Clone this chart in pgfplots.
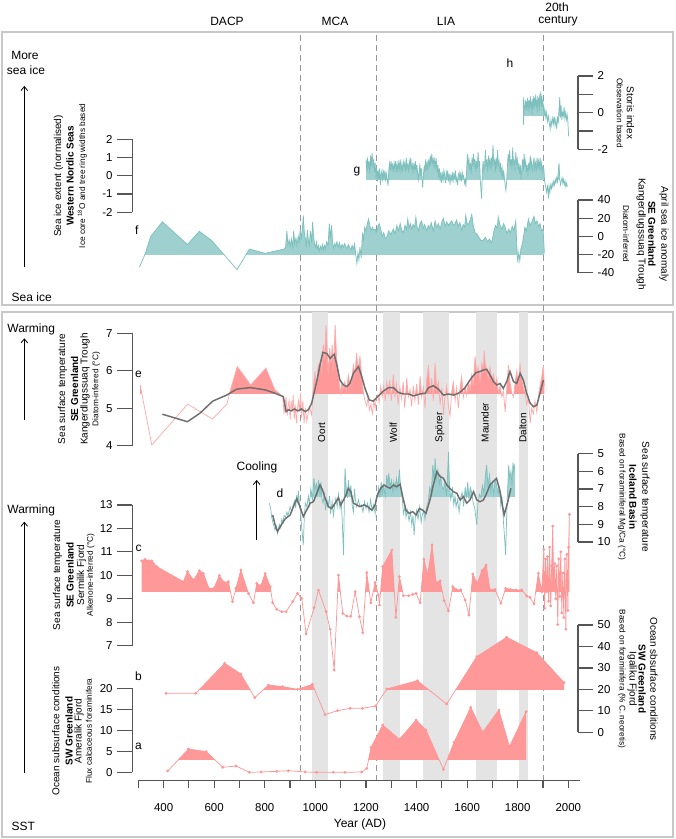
\documentclass[border=0pt]{standalone}
\usepackage{fontspec}
\setmainfont{Liberation Sans}
\usepackage{pgfplots}
\usepackage{pgfplotstable}
\pgfplotsset{compat=1.18}
\usetikzlibrary{arrows.meta}

\definecolor{tealfill}{RGB}{157,208,206}
\definecolor{tealline}{RGB}{125,192,190}
\definecolor{pinkfill}{RGB}{255,153,153}
\definecolor{pinkline}{RGB}{255,150,150}
\definecolor{pinkthin}{RGB}{255,170,170}
\definecolor{smoothgray}{RGB}{110,110,110}
\definecolor{bandgray}{RGB}{228,228,228}
\definecolor{axisgray}{RGB}{85,85,85}
\definecolor{framegray}{RGB}{200,200,200}
\definecolor{dashgray}{RGB}{150,150,150}

\newcommand\fmain{\fontsize{7.5}{8.5}\selectfont}
\newcommand\fsmall{\fontsize{6.2}{7}\selectfont}
\newcommand\fbig{\fontsize{9}{10.5}\selectfont}
\newcommand\ftick{\fontsize{8.6}{10}\selectfont}

\pgfplotsset{
 base/.style={x=0.189705pt, xmin=276, xmax=2038, anchor=south west},
 panel/.style={base, clip=false, axis x line=none,
   tick style={axisgray, line width=0.9pt},
   yticklabel style={font=\ftick, text=black},
   /pgf/number format/assume math mode=true},
 nolinearrow/.style={axis line style={-, axisgray, line width=0.9pt},
   every outer y axis line/.append style={-},
   every inner y axis line/.append style={-}},
 lp/.style={panel, axis y line=left, ytick pos=left, tick align=outside, major tick length=11.25pt, nolinearrow},
 rp/.style={panel, axis y line=right, ytick pos=right, tick align=outside, major tick length=11.25pt, nolinearrow},
 fp/.style={base, hide axis, clip=true},
 thinteal/.style={tealline, line width=0.55pt},
 thinpink/.style={pinkthin, line width=0.55pt},
 markpink/.style={pinkline, line width=0.55pt, mark=*, mark size=0.75pt, mark options={fill=pinkline, draw=pinkline}},
 smooth/.style={smoothgray, line width=1.1pt},
}

% ---------------- data ----------------
\pgfplotstableread{
x y
1822 0.85
1823 -0.65
1825 0.4
1827 0.2
1829 0.7
1831 0.3
1833 0.6
1835 0.1
1837 0.5
1839 0.8
1841 0.2
1843 0.65
1845 0.0
1847 0.7
1849 0.3
1851 0.9
1853 0.2
1855 0.6
1857 -0.1
1859 0.75
1861 0.3
1863 0.9
1865 0.2
1867 0.8
1869 0.4
1871 1.0
1873 0.3
1875 0.7
1877 0.0
1879 0.9
1881 0.4
1883 0.8
1885 0.1
1887 1.0
1889 0.5
1891 1.15
1893 0.3
1895 0.9
1897 0.4
1899 0.7
1901 0.3
1904 -0.2
1907 0.2
1911 -0.3
1914 0.0
1918 -0.5
1921 -0.2
1925 -0.6
1928 -0.9
1931 -0.4
1934 -0.7
1938 -0.3
1941 -0.6
1944 -0.2
1947 -0.7
1950 -0.4
1954 -0.9
1957 -0.2
1960 -0.6
1963 0.2
1966 0.85
1968 -0.3
1971 0.4
1974 -0.4
1977 0.0
1980 -0.2
1983 0.3
1986 -0.3
1989 0.0
1992 -0.4
1995 -0.1
1998 -0.5
2001 -1.3
}\tabh

\pgfplotstableread{
x y
1200 0.9
1203 0.2
1206 1.0
1209 0.4
1212 0.8
1215 0.1
1218 1.1
1221 0.5
1224 1.25
1227 0.6
1230 0.9
1233 0.2
1236 0.7
1239 -0.1
1242 0.5
1245 -0.3
1248 0.3
1251 -0.2
1254 0.4
1257 -0.5
1260 0.1
1263 0.3
1266 -0.3
1269 0.2
1272 -0.1
1275 0.3
1278 -0.3
1281 0.1
1284 -0.2
1287 -0.55
1290 0.3
1293 0.7
1296 0.3
1299 0.8
1302 0.4
1305 0.6
1308 0.2
1311 0.7
1314 0.4
1317 0.8
1320 0.3
1323 0.65
1326 0.2
1329 0.7
1332 0.4
1335 0.9
1338 0.3
1341 0.6
1344 0.2
1347 0.8
1350 0.5
1353 0.7
1356 0.2
1359 1.0
1362 0.4
1365 0.6
1368 0.3
1371 0.8
1374 0.5
1377 1.0
1380 0.4
1383 0.6
1386 0.1
1389 0.7
1392 0.3
1395 0.8
1398 0.2
1401 0.6
1404 0.1
1407 -0.2
1410 0.3
1413 0.6
1416 0.0
1419 0.4
1422 -0.3
1424 -0.65
1427 0.1
1430 0.5
1433 0.2
1436 0.9
1439 0.4
1442 0.7
1445 0.3
1448 0.9
1451 0.5
1454 1.1
1457 0.6
1460 1.2
1463 0.7
1466 0.9
1469 0.4
1472 1.0
1475 0.5
1478 0.8
1481 0.2
1484 0.6
1487 -0.1
1490 0.4
1493 -0.3
1496 0.2
1499 -0.4
1502 0.1
1505 -0.2
1508 0.3
1511 0.0
1514 -0.4
1517 0.2
1520 -0.1
1523 0.3
1526 -0.3
1529 0.1
1532 -0.5
1535 0.0
1538 -0.2
1541 0.2
1544 -0.4
1547 0.1
1550 -0.1
1553 0.3
1556 -0.3
1559 -0.1
1562 -0.5
1565 0.0
1568 0.2
1571 -0.2
1574 0.1
1577 -0.3
1580 0.2
1583 -0.1
1586 0.0
1589 -0.4
1592 -0.2
1595 -0.6
1598 0.4
1601 1.2
1604 0.6
1607 0.9
1610 0.3
1613 0.7
1616 0.1
1619 1.0
1622 0.5
1625 1.2
1628 0.6
1631 0.9
1634 0.2
1637 0.8
1640 0.4
1643 1.3
1646 0.5
1649 0.8
1652 -0.3
1655 -0.9
1657 -1.25
1660 0.2
1663 0.8
1666 0.3
1669 0.6
1672 1.4
1675 0.5
1678 0.9
1681 0.2
1684 1.1
1687 0.6
1690 0.9
1693 0.3
1696 1.0
1699 0.5
1702 1.7
1705 0.6
1708 0.9
1711 0.2
1714 1.0
1717 0.4
1720 1.4
1723 0.6
1726 0.8
1729 0.2
1732 0.7
1735 0.1
1738 0.4
1741 -0.2
1744 0.3
1747 -0.1
1750 -0.5
1753 -0.8
1756 -0.3
1759 0.5
1762 1.2
1765 0.7
1768 1.4
1771 0.5
1774 0.9
1777 0.3
1780 1.55
1783 0.6
1786 0.9
1789 0.2
1792 1.3
1795 0.6
1798 0.9
1801 0.3
1804 0.7
1807 0.1
1810 0.6
1813 -0.2
1816 0.4
1819 0.9
1822 0.3
1825 1.2
1828 0.5
1831 0.8
1834 0.2
1837 0.6
1840 0.0
1843 0.7
1846 0.3
1849 1.1
1852 0.5
1855 0.8
1858 0.2
1861 0.6
1864 1.0
1867 0.4
1870 0.7
1873 0.2
1876 1.0
1879 0.5
1882 0.8
1885 0.3
1888 1.0
1891 0.4
1894 0.7
1897 0.2
1900 0.5
1903 0.4
1906 -0.3
1910 -0.6
1914 -0.9
1918 -0.5
1921 -1.25
1924 -0.6
1927 -0.9
1930 -0.5
1933 -0.7
1936 -0.4
1939 -0.6
1942 -0.3
1945 -0.5
1948 -0.2
1951 -0.4
1954 -0.1
1957 -0.3
1960 0.2
1963 0.7
1966 -0.2
1969 -0.5
1972 -0.3
1975 -0.1
1978 -0.4
1981 -0.2
1984 -0.5
1987 -0.3
1990 -0.6
1993 -0.4
1996 -0.6
}\tabg

\pgfplotstableread{
x y
304 -34
326 -20
349 0
395 16
494 -9
541 5.5
590 -4.7
690 -36.6
739 -14
801 -18.7
876 -14
882 -12
887 6
891 -10
896 -4
900 -11
905 -3
910 -12
914 6
918 -8
923 -2
927 -10
932 0
936 -6
940 8
944 -4
949 10
952 23
956 4
960 -2
964 -12
968 7
972 -4
976 -10
980 6
985 -6
989 16
992 2
996 -8
1000 -12
1004 -6
1008 -14
1012 -10
1016 -16
1020 -11
1024 -14
1028 -9
1032 -15
1036 -10
1040 -13
1044 -6
1050 -10
1055 14
1059 -2
1064 12
1068 -8
1072 -13
1076 -8
1080 -11
1085 -6
1090 -12
1095 -7
1100 -13
1105 -9
1110 -12
1115 -8
1120 -11
1125 -14
1130 -9
1135 -12
1140 -15
1145 -10
1150 -14
1155 -8
1160 -22
1164 -30
1168 -18
1172 -26
1176 -12
1181 -24
1186 4
1190 -4
1195 10
1200 6
1205 14
1210 19
1215 12
1220 6
1225 10
1230 7
1236 8
1240 4
1246 10
1252 14
1258 8
1264 0
1270 4
1276 -2
1282 -1
1290 6
1298 2
1308 8
1315 3
1322 12
1328 6
1335 14
1341 7
1348 4
1354 12
1360 8
1365 19
1370 9
1375 14
1381 8
1386 13
1392 10
1397 21
1402 10
1407 6
1413 14
1420 17
1426 9
1432 13
1440 6
1446 12
1452 9
1458 15
1466 6
1473 17
1479 10
1486 14
1493 8
1499 15
1506 20
1512 11
1519 16
1526 12
1533 15
1539 17
1546 12
1552 14
1558 18
1564 11
1571 15
1578 7
1584 13
1590 10
1594 23
1600 14
1605 13
1612 18
1618 24
1624 12
1631 4
1640 2
1648 -2
1656 -5
1664 -4
1672 -1
1680 -6
1688 -3
1697 -7
1705 5
1712 12
1718 9
1723 21
1730 12
1737 8
1744 14
1750 10
1757 3
1764 8
1771 4
1778 11
1785 7
1792 17
1796 -10
1800 -29
1804 -18
1808 -27
1812 -14
1818 -8
1822 -2
1828 10
1834 6
1842 19
1848 12
1856 16
1864 22
1870 14
1876 17
1882 11
1888 14
1894 6
1900 8
1905 -18
}\tabf

\pgfplotstableread{
x y
307 5.62
353 4.02
495 5.11
593 4.71
650 5.11
662 5.44
691 6.11
744 5.62
804 6.07
840 5.49
871 5.31
876 4.85
880 5.1
884 5.3
888 4.8
892 5.05
896 5.2
900 4.7
904 5.2
908 4.9
912 5.35
916 4.7
920 5.1
925 4.6
929 5.0
933 5.2
937 4.9
941 5.4
945 4.75
950 5.2
955 4.6
960 5.0
966 4.65
972 4.9
978 5.0
985 4.82
990 5.4
998 5.98
1003 5.5
1010 6.1
1018 6.24
1024 6.0
1031 6.69
1036 6.3
1042 7.22
1047 6.4
1051 5.89
1056 6.6
1062 6.2
1066 6.7
1072 6.0
1078 7.22
1084 6.3
1090 5.9
1095 5.62
1100 5.4
1104 5.66
1110 5.5
1116 5.7
1122 5.45
1130 5.89
1137 5.6
1143 5.75
1150 6.15
1156 5.9
1163 6.47
1169 6.0
1176 6.38
1183 5.85
1190 5.40
1196 5.2
1203 5.05
1208 5.3
1213 4.95
1219 5.1
1225 4.85
1231 5.2
1236 5.0
1240 5.26
1246 5.35
1252 5.15
1258 5.58
1264 5.3
1270 5.6
1276 5.2
1282 5.7
1288 5.4
1294 5.75
1300 5.2
1308 5.9
1314 5.3
1320 5.65
1327 5.1
1334 5.55
1340 5.25
1347 5.7
1353 5.0
1361 5.8
1367 5.3
1374 5.5
1380 5.05
1387 5.6
1393 5.2
1400 5.65
1407 5.1
1414 5.85
1420 5.3
1427 5.55
1433 5.0
1440 5.75
1447 6.15
1453 5.4
1460 5.8
1466 5.2
1473 6.2
1479 5.5
1486 5.7
1493 5.1
1500 5.55
1506 4.82
1512 5.3
1519 5.6
1526 5.05
1532 4.78
1538 5.4
1545 5.7
1552 5.2
1558 5.55
1565 5.0
1571 5.5
1578 5.85
1585 5.3
1592 5.6
1598 5.35
1605 5.7
1612 5.5
1618 5.89
1624 5.6
1631 6.38
1638 5.9
1644 6.1
1651 5.7
1658 6.2
1664 6.0
1667 6.53
1671 6.2
1677 6.0
1684 5.8
1690 6.1
1697 5.75
1704 5.9
1710 5.6
1717 5.8
1723 5.4
1730 5.6
1737 5.3
1743 5.45
1750 4.9
1756 5.5
1763 6.15
1769 5.7
1776 5.4
1783 5.3
1790 5.7
1796 6.0
1802 5.6
1809 6.15
1815 5.8
1822 5.55
1829 5.4
1835 5.1
1842 5.3
1849 4.6
1855 5.0
1862 4.85
1868 5.2
1875 4.9
1881 5.3
1888 5.6
1894 5.8
1901 6.15
1905 5.6
}\tabe

\pgfplotstableread{
x y
395 4.84
494 4.64
544 4.87
594 5.19
649 5.35
689 5.51
742 5.55
801 5.49
840 5.40
873 5.31
884 4.91
893 4.96
904 4.93
917 4.98
930 4.93
945 4.98
959 4.91
972 4.96
985 5.13
1005 5.71
1018 6.15
1029 6.49
1045 6.46
1058 6.33
1074 6.44
1085 6.15
1097 5.75
1111 5.62
1124 5.58
1136 5.66
1150 5.93
1170 6.11
1183 5.85
1196 5.53
1213 5.22
1229 5.19
1249 5.33
1269 5.46
1289 5.55
1308 5.55
1328 5.42
1348 5.38
1368 5.38
1387 5.33
1414 5.38
1434 5.40
1447 5.55
1466 5.60
1486 5.51
1506 5.35
1526 5.38
1546 5.35
1565 5.40
1578 5.46
1592 5.55
1605 5.69
1618 5.82
1635 5.95
1651 5.98
1664 6.02
1677 6.04
1690 5.89
1704 5.71
1717 5.62
1730 5.66
1743 5.53
1756 5.71
1769 5.98
1783 5.71
1796 5.66
1809 5.93
1822 5.75
1835 5.40
1849 5.13
1862 5.04
1875 5.08
1888 5.40
1901 5.75
}\tabes

\pgfplotstableread{
x y
818 7.81
823 8.1
827 8.6
832 8.9
840 9.32
846 9.1
850 9.51
857 9.0
863 9.2
867 8.7
872 8.9
876 8.5
882 8.6
887 8.3
891 8.5
897 8.2
900 8.0
906 8.3
912 7.9
919 7.62
922 8.1
926 7.34
930 7.8
933 7.1
937 7.9
942 8.5
946 9.23
952 10.17
956 8.6
960 7.8
966 8.0
972 7.4
976 7.9
982 7.0
988 7.6
994 6.39
998 7.0
1004 6.7
1008 7.3
1012 6.5
1018 7.2
1022 6.6
1025 7.5
1030 7.8
1035 7.3
1040 8.2
1045 7.6
1050 8.0
1056 7.4
1060 8.4
1066 7.7
1071 8.5
1076 7.9
1081 7.5
1086 8.0
1091 7.3
1097 8.1
1102 7.7
1106 8.8
1111 10.74
1114 8.0
1117 5.83
1122 7.0
1127 7.5
1130 6.5
1136 7.3
1140 6.8
1145 7.9
1150 8.3
1154 7.0
1158 7.6
1163 8.0
1170 7.6
1176 8.0
1182 7.9
1188 8.3
1194 7.7
1200 8.1
1206 7.8
1212 8.3
1218 7.6
1224 8.2
1230 7.9
1236 8.4
1240 7.5
1245 7.4
1250 6.9
1255 7.5
1260 6.6
1265 7.2
1270 6.8
1276 7.4
1282 6.21
1287 6.8
1290 6.1
1295 6.9
1301 6.5
1306 7.2
1310 6.6
1315 7.0
1320 6.4
1326 6.9
1332 5.9
1337 7.0
1342 7.3
1348 8.4
1354 8.0
1358 8.6
1363 8.2
1370 8.8
1376 8.3
1381 9.04
1386 8.5
1390 9.61
1395 8.6
1400 8.2
1406 8.7
1412 8.0
1418 8.9
1422 8.5
1428 8.2
1433 8.7
1440 8.0
1446 7.7
1452 6.9
1458 7.2
1464 5.64
1470 6.6
1473 5.26
1478 6.4
1484 5.9
1490 6.7
1495 6.3
1500 6.9
1506 7.0
1512 6.6
1518 7.4
1522 6.4
1526 4.9
1530 6.8
1535 7.6
1542 7.0
1547 7.9
1552 7.4
1556 8.0
1562 7.6
1568 8.3
1574 7.5
1580 7.2
1586 8.0
1592 6.9
1597 7.5
1602 6.6
1607 7.6
1612 6.9
1618 7.2
1624 7.8
1630 8.1
1638 9.04
1642 7.9
1648 7.3
1654 7.5
1660 6.8
1666 7.2
1671 6.4
1677 5.64
1682 6.9
1688 6.2
1693 7.1
1699 6.6
1705 7.3
1710 6.5
1716 6.8
1722 7.2
1728 6.9
1733 8.0
1738 7.6
1743 8.8
1747 9.6
1752 10.74
1756 8.5
1760 7.0
1764 5.64
1768 6.4
1773 6.0
1777 6.8
1781 5.5
1785 6.1
1788 5.6
}\tabd

\pgfplotstableread{
x y
831 8.47
840 9.0
850 9.41
862 9.1
880 8.7
900 8.47
913 8.0
926 7.56
939 8.0
952 8.56
965 8.2
979 7.8
992 7.72
1008 7.15
1018 6.77
1028 7.05
1038 7.5
1051 8.0
1064 8.1
1078 7.8
1091 7.5
1100 7.9
1111 7.62
1121 7.34
1130 6.96
1140 7.15
1150 7.8
1163 7.9
1176 8.0
1192 7.9
1207 8.0
1223 8.2
1236 7.9
1245 7.34
1258 6.96
1271 6.77
1282 6.87
1295 6.96
1308 6.77
1321 6.87
1335 6.73
1345 7.43
1358 8.2
1371 8.38
1385 8.28
1398 8.47
1411 8.1
1424 8.2
1437 8.38
1447 7.9
1456 7.43
1466 6.77
1480 6.02
1493 6.3
1506 6.39
1519 6.77
1532 6.96
1545 7.15
1559 7.24
1572 7.62
1585 7.43
1598 7.8
1611 7.62
1625 7.15
1638 7.62
1651 7.72
1664 7.62
1677 7.24
1690 6.77
1703 6.58
1716 6.4
1730 7.15
1746 8.47
1759 7.8
1773 6.96
}\tabds

\pgfplotstableread{
x y
313 10.62
326 10.68
340 10.62
353 10.62
373 10.37
478 9.73
494 10.16
518 9.80
541 10.20
557 10.08
580 9.42
599 9.45
620 9.99
639 9.69
656 9.73
672 8.88
686 9.45
705 10.23
735 9.23
755 8.83
768 9.66
784 9.55
801 10.08
821 9.52
831 8.83
847 8.55
867 8.45
884 8.45
910 8.88
929 9.23
946 9.02
963 7.50
995 8.62
1012 9.37
1042 8.45
1058 7.70
1074 5.96
1091 10.01
1108 8.38
1124 8.26
1140 8.26
1157 9.30
1174 8.24
1187 7.56
1203 10.11
1219 8.83
1236 9.69
1249 9.16
1253 8.73
1266 10.37
1302 11.08
1318 8.21
1332 9.94
1348 9.13
1368 9.13
1385 9.19
1398 9.23
1414 8.83
1429 10.68
1444 10.01
1461 11.29
1477 9.69
1493 9.77
1509 8.92
1526 8.49
1543 9.52
1559 9.38
1574 9.38
1592 8.95
1607 8.31
1622 10.05
1640 9.66
1658 10.20
1675 10.44
1690 9.38
1710 9.40
1733 8.81
1752 9.45
1770 9.40
1793 9.38
1816 9.38
1835 9.12
1848 9.06
1864 8.78
1881 10.09
1895 9.30
1903 11.1
1906 8.6
1910 10.7
1914 9.3
1918 10.8
1922 8.9
1926 11.2
1930 8.7
1934 10.4
1938 12.1
1942 9.5
1946 10.5
1950 9.0
1954 10.4
1958 7.9
1962 10.7
1966 9.1
1970 11.0
1974 8.4
1978 10.1
1982 8.2
1986 10.7
1990 7.7
1994 10.9
1998 8.5
2001 11.2
2004 12.6
}\tabc

\pgfplotstableread{
x y
409 18.16
527 18.16
641 32.15
705 27.17
760 16.14
814 22.04
871 21.27
929 20.02
988 22.35
1038 8.22
1087 10.08
1137 11.17
1186 11.17
1238 12.26
1282 20.18
1403 24.06
1519 13.19
1638 35.26
1756 44.27
1875 37.12
1983 23.13
}\tabb

\pgfplotstableread{
x y
416 0.31
498 5.55
568 4.91
634 1.18
686 1.50
739 0.0
785 0.07
847 0.23
893 0.39
959 0.07
1005 0.0
1071 0.0
1117 0.0
1183 0.07
1203 0.94
1220 5.94
1266 11.26
1332 7.85
1398 12.45
1437 10.07
1506 0.71
1548 7.13
1614 15.47
1661 9.52
1725 14.83
1767 6.10
1833 14.44
}\taba

\begin{document}
\begin{tikzpicture}
\useasboundingbox (0,0) rectangle (506.25pt,629.25pt);

% frames
\begin{scope}[x=0.75pt, y=-0.75pt, yshift=629.25pt]
\draw[framegray, line width=1.1pt] (2,32) rectangle (673,305);
\draw[framegray, line width=1.1pt] (2,312) rectangle (673,837);
\end{scope}

% background: solar minima bands and period boundaries
\begin{axis}[base, y=561pt, ymin=0, ymax=1, hide axis, clip=false, at={(99.225pt,43.5pt)}]
\addplot[fill=bandgray, draw=none] coordinates {(988,0.627) (1049,0.627)} \closedcycle;
\addplot[fill=bandgray, draw=none] coordinates {(1267,0.627) (1336,0.627)} \closedcycle;
\addplot[fill=bandgray, draw=none] coordinates {(1426,0.627) (1528,0.627)} \closedcycle;
\addplot[fill=bandgray, draw=none] coordinates {(1635,0.627) (1718,0.627)} \closedcycle;
\addplot[fill=bandgray, draw=none] coordinates {(1805,0.627) (1840,0.627)} \closedcycle;
\addplot[dashgray, line width=0.75pt, dash pattern=on 4.5pt off 3pt] coordinates {(940,0) (940,0.997)};
\addplot[dashgray, line width=0.75pt, dash pattern=on 4.5pt off 3pt] coordinates {(1240,0) (1240,0.997)};
\addplot[dashgray, line width=0.75pt, dash pattern=on 4.5pt off 3pt] coordinates {(1903,0) (1903,0.997)};
\end{axis}

% ===== h : Storis index (fill clipped at baseline -0.15) =====
\begin{axis}[fp, y=13.7475pt, ymin=-0.15, ymax=6, at={(99.225pt,542.708pt)}]
\addplot[fill=tealfill, draw=none] table {\tabh} -- (axis cs:2001,-10) -- (axis cs:1822,-10) -- cycle;
\end{axis}
\begin{axis}[rp, y=13.7475pt, ymin=-2, ymax=2, at={(99.225pt,517.275pt)},
  ytick={-2,-1,0,1,2}, yticklabels={-2,,0,,2}]
\addplot[thinteal] table {\tabh};
\end{axis}

% ===== g : Western Nordic Seas (baseline -0.18) =====
\begin{axis}[fp, y=13.6875pt, ymin=-0.18, ymax=6, at={(99.225pt,494.936pt)}]
\addplot[fill=tealfill, draw=none] table {\tabg} -- (axis cs:1996,-10) -- (axis cs:1200,-10) -- cycle;
\end{axis}
\begin{axis}[lp, y=13.6875pt, ymin=-2, ymax=2, at={(99.225pt,470.025pt)},
  ytick={-2,-1,0,1,2}, yticklabels={-2,-1,0,1,2}]
\addplot[thinteal] table {\tabg};
\end{axis}

% ===== f : SE Greenland April sea ice (baseline -20) =====
\begin{axis}[fp, y=0.68156pt, ymin=-20, ymax=120, at={(99.225pt,438.356pt)}]
\addplot[fill=tealfill, draw=none] table {\tabf} -- (axis cs:1905,-200) -- (axis cs:304,-200) -- cycle;
\end{axis}
\begin{axis}[rp, y=0.68156pt, ymin=-40, ymax=40, at={(99.225pt,424.725pt)},
  ytick={-40,-20,0,20,40}, yticklabels={-40,-20,0,20,40}]
\addplot[thinteal] table {\tabf};
\end{axis}

% ===== e : SST Kangerdlugssuaq (baseline 5.4) =====
\begin{axis}[fp, y=28.1025pt, ymin=5.4, ymax=10, at={(99.225pt,334.319pt)}]
\addplot[fill=pinkfill, draw=none] table {\tabe} -- (axis cs:1905,0) -- (axis cs:307,0) -- cycle;
\end{axis}
\begin{axis}[lp, y=28.1025pt, ymin=4, ymax=7, at={(99.225pt,294.975pt)},
  ytick={4,5,6,7}, yticklabels={4,5,6,7}]
\addplot[thinpink] table {\tabe};
\addplot[smooth] table {\tabes};
\end{axis}

% ===== d : Iceland Basin, reversed axis (baseline 7.45, warm side up) =====
\begin{axis}[fp, y=13.245pt, y dir=reverse, ymin=0, ymax=7.45, at={(99.225pt,256.525pt)}]
\addplot[fill=tealfill, draw=none] table {\tabd} -- (axis cs:1788,30) -- (axis cs:818,30) -- cycle;
\end{axis}
\begin{axis}[rp, y=13.245pt, y dir=reverse, ymin=5, ymax=10, at={(99.225pt,222.75pt)},
  ytick={5,6,7,8,9,10}, yticklabels={5,6,7,8,9,10}]
\addplot[thinteal] table {\tabd};
\addplot[smooth] table {\tabds};
\end{axis}

% ===== c : Sermilik Fjord (baseline 9.3) =====
\begin{axis}[fp, y=17.5875pt, ymin=9.3, ymax=20, at={(99.225pt,185.426pt)}]
\addplot[fill=pinkfill, draw=none] table {\tabc} -- (axis cs:2004,0) -- (axis cs:313,0) -- cycle;
\end{axis}
\begin{axis}[lp, y=17.5875pt, ymin=7, ymax=13, at={(99.225pt,144.975pt)},
  ytick={7,8,9,10,11,12,13}, yticklabels={7,8,9,10,11,12,13}]
\addplot[markpink] table {\tabc};
\end{axis}

% ===== b : Igaliku Fjord (baseline 20) =====
\begin{axis}[fp, y=1.6095pt, ymin=20, ymax=100, at={(99.225pt,112.215pt)}]
\addplot[fill=pinkfill, draw=none] table {\tabb} -- (axis cs:1983,-50) -- (axis cs:409,-50) -- cycle;
\end{axis}
\begin{axis}[rp, y=1.6095pt, ymin=0, ymax=50, at={(99.225pt,80.025pt)},
  ytick={0,10,20,30,40,50}, yticklabels={0,10,20,30,40,50}]
\addplot[markpink] table {\tabb};
\end{axis}

% ===== a : Ameralik Fjord (baseline 3.1) =====
\begin{axis}[fp, y=3.15pt, ymin=3.1, ymax=40, at={(99.225pt,59.79pt)}]
\addplot[fill=pinkfill, draw=none] table {\taba} -- (axis cs:1833,-20) -- (axis cs:416,-20) -- cycle;
\end{axis}
\begin{axis}[lp, y=3.15pt, ymin=0, ymax=20, at={(99.225pt,50.025pt)},
  ytick={0,5,10,15,20}, yticklabels={0,5,10,15,20}]
\addplot[markpink] table {\taba};
\end{axis}

% ===== x axis =====
\begin{axis}[x=0.189705pt, xmin=300, xmax=2046, y=1pt, ymin=0, ymax=1,
  anchor=south west, at={(103.725pt,43.725pt)},
  axis x line=bottom, axis y line=none, xtick pos=left,
  axis line style={-, axisgray, line width=0.9pt},
  every outer x axis line/.append style={-},
  every inner x axis line/.append style={-},
  tick style={axisgray, line width=0.9pt}, tick align=outside, major tick length=5.8pt,
  xtick={300,400,...,2000},
  xticklabels={,400,,600,,800,,1000,,1200,,1400,,1600,,1800,,2000},
  xticklabel style={font=\ftick, text=black, yshift=-8pt}]
\addplot[draw=none] coordinates {(300,0)};
\end{axis}

% ===== text =====
\begin{scope}[x=0.75pt, y=-0.75pt, yshift=629.25pt]
\node[font=\fbig] at (227,21) {DACP};
\node[font=\fbig] at (335,21) {MCA};
\node[font=\fbig] at (446,21) {LIA};
\node[font=\fbig] at (557,7) {20th};
\node[font=\fbig] at (558,21) {century};

\node[font=\fbig] at (25,55) {More};
\node[font=\fbig] at (26,70) {sea ice};
\draw[line width=0.6pt, -{Straight Barb[length=3pt,width=5pt]}] (24.3,266.7) -- (24.3,86);
\node[font=\fbig, anchor=west] at (7,297) {Sea ice};

\node[font=\fbig] at (31.2,329.3) {Warming};
\draw[line width=0.6pt, -{Straight Barb[length=3pt,width=5pt]}] (24.3,420) -- (24.3,338.3);
\node[font=\fbig] at (257,467.3) {Cooling};
\draw[line width=0.6pt, -{Straight Barb[length=3pt,width=5pt]}] (256.7,540) -- (256.7,480);
\node[font=\fbig] at (31.2,510.7) {Warming};
\draw[line width=0.6pt, -{Straight Barb[length=3pt,width=5pt]}] (24.3,772.7) -- (24.3,521.7);
\node[font=\fbig, anchor=west] at (7,826.7) {SST};

\node[font=\fbig] at (510,63) {h};
\node[font=\fbig] at (357,172) {g};
\node[font=\fbig] at (136.7,230) {f};
\node[font=\fbig] at (138.5,374) {e};
\node[font=\fbig] at (280,493.3) {d};
\node[font=\fbig] at (138.5,548.3) {c};
\node[font=\fbig] at (138.5,676.7) {b};
\node[font=\fbig] at (138.5,746) {a};

\node[font=\fmain, rotate=90, anchor=west] at (321.7,447) {Oort};
\node[font=\fmain, rotate=90, anchor=west] at (393.3,447) {Wolf};
\node[font=\fmain, rotate=90, anchor=west] at (440,447) {Spörer};
\node[font=\fmain, rotate=90, anchor=west] at (485,447) {Maunder};
\node[font=\fmain, rotate=90, anchor=west] at (522.7,447) {Dalton};

% left label groups
\node[font=\fmain, rotate=90] at (58.5,176) {Sea ice extent (normalised)};
\node[font=\fmain\bfseries, rotate=90] at (70,176) {Western Nordic Seas};
\node[font=\fsmall, rotate=90] at (82.3,176) {Ice core \textsuperscript{18}O and tree ring widths based};

\node[font=\fmain, rotate=90] at (62.5,389) {Sea surface temperature};
\node[font=\fmain\bfseries, rotate=90] at (74.5,389) {SE Greenland};
\node[font=\fmain, rotate=90] at (85,389) {Kangerdlugssuaq Trough};
\node[font=\fsmall, rotate=90] at (96.2,389) {Diatom-inferred (°C)};

\node[font=\fmain, rotate=90] at (57.5,575) {Sea surface temperature};
\node[font=\fmain\bfseries, rotate=90] at (70,575) {SE Greenland};
\node[font=\fmain, rotate=90] at (81.5,575) {Sermilik Fjord};
\node[font=\fsmall, rotate=90] at (90.8,575) {Alkenone-inferred (°C)};

\node[font=\fmain, rotate=90] at (55.8,731) {Ocean subsurface conditions};
\node[font=\fmain\bfseries, rotate=90] at (69,731) {SW Greenland};
\node[font=\fmain, rotate=90] at (79,731) {Ameralik Fjord};
\node[font=\fsmall, rotate=90] at (88.8,731) {Flux calcaceous foraminifera};

% right label groups
\node[font=\fmain, rotate=-90] at (630.5,113) {Storis index};
\node[font=\fsmall, rotate=-90] at (619.7,113) {Observation based};

\node[font=\fmain, rotate=-90] at (664,234) {April sea ice anomaly};
\node[font=\fmain\bfseries, rotate=-90] at (652,234) {SE Greenland};
\node[font=\fmain, rotate=-90] at (641.3,234) {Kangerdlugssuaq Trough};
\node[font=\fsmall, rotate=-90] at (626,234) {Diatom-inferred};

\node[font=\fmain, rotate=-90] at (645,497) {Sea surface temperature};
\node[font=\fmain\bfseries, rotate=-90] at (633,497) {Iceland Basin};
\node[font=\fsmall, rotate=-90] at (621.7,497) {Based on foraminiferal Mg/Ca (°C)};

\node[font=\fmain, rotate=-90] at (654,679) {Ocean sbsurface conditions};
\node[font=\fmain\bfseries, rotate=-90] at (642.3,679) {SW Greenland};
\node[font=\fmain, rotate=-90] at (632.3,679) {Igaliku Fjord};
\node[font=\fsmall, rotate=-90] at (621.7,679) {Based on foraminifera (\% C. neoretis)};

\node[font=\fbig] at (360,824) {Year (AD)};
\end{scope}
\end{tikzpicture}
\end{document}
